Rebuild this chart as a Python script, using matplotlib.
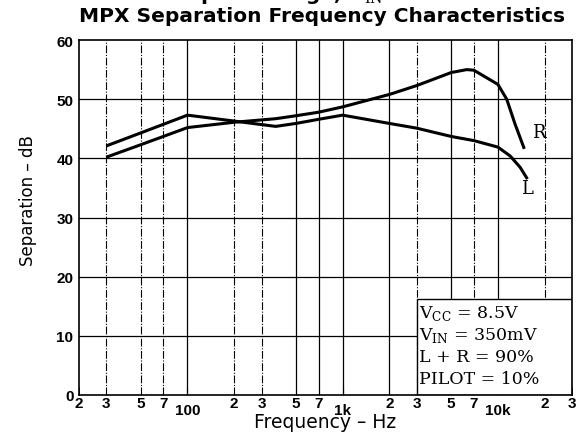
import matplotlib.pyplot as plt
from matplotlib.patches import Rectangle

# separation curves, Hz / dB
freq_r = [30, 50, 100, 200, 370, 500, 700, 1000, 2000, 3000, 5000, 6300, 7000, 10000, 11400, 12900, 14800]
sep_r = [40.2, 42.3, 45.2, 46.1, 46.7, 47.2, 47.8, 48.7, 50.8, 52.3, 54.5, 55.0, 54.9, 52.5, 50.0, 45.8, 41.6]

freq_l = [30, 50, 100, 200, 370, 500, 700, 1000, 2000, 3000, 5000, 7000, 10000, 12000, 13900, 15500]
sep_l = [42.1, 44.3, 47.3, 46.3, 45.4, 45.9, 46.6, 47.3, 45.9, 45.1, 43.7, 43.0, 41.9, 40.4, 38.5, 36.5]

grid_freqs = [30, 50, 70, 100, 200, 300, 500, 700, 1000, 2000, 3000, 5000, 7000, 10000, 20000]
solid_freqs = [100, 500, 700, 1000, 2000, 5000, 10000]
db_ticks = [0, 10, 20, 30, 40, 50, 60]
major_ticks = [100, 1000, 10000]
major_labels = ["100", "1k", "10k"]
minor_ticks = [20, 30, 50, 70, 200, 300, 500, 700, 2000, 3000, 5000, 7000, 20000, 30000]
minor_labels = ["2", "3", "5", "7", "2", "3", "5", "7", "2", "3", "5", "7", "2", "3"]
conditions = ["V$_{\\rm CC}$ = 8.5V", "V$_{\\rm IN}$ = 350mV", "L + R = 90%", "PILOT = 10%"]

plt.rcParams['font.family'] = ['Liberation Sans', 'DejaVu Sans']
plt.rcParams['mathtext.fontset'] = 'custom'
plt.rcParams['mathtext.rm'] = 'DejaVu Serif'

fig = plt.figure(figsize=(5.83, 4.35), dpi=100)
ax = fig.add_axes([0.1355, 0.0897, 0.8455, 0.816])
ax.set_xscale('log')
ax.set_xlim(20, 30000)
ax.set_ylim(0, 60)

# grid
for f in grid_freqs:
    if f in solid_freqs:
        ax.axvline(f, color='black', lw=0.9, zorder=1)
    else:
        ax.axvline(f, color='black', lw=0.8, ls=(0, (7, 1.5, 1, 1.5)), zorder=1)
for d in db_ticks[1:-1]:
    ax.axhline(d, color='black', lw=0.9, zorder=1)

ax.plot(freq_r, sep_r, color='black', lw=2.2, zorder=3, solid_capstyle='butt')
ax.plot(freq_l, sep_l, color='black', lw=2.2, zorder=3, solid_capstyle='butt')

ax.text(16500, 44.5, "R", family='DejaVu Serif', fontsize=13, ha='left', va='center', zorder=4)
ax.text(14000, 35.0, "L", family='DejaVu Serif', fontsize=13, ha='left', va='center', zorder=4)

# conditions box
ax.add_patch(Rectangle((3000, 0), 30000 - 3000, 16.2, facecolor='white',
                       edgecolor='black', lw=1.0, zorder=2))
for i, s in enumerate(conditions):
    ax.text(3120, 14.0 - i * 3.75, s, family='DejaVu Serif', fontsize=12.5,
            ha='left', va='center', zorder=4)

ax.set_xticks(major_ticks)
ax.set_xticklabels(major_labels)
ax.set_xticks(minor_ticks, minor=True)
ax.set_xticklabels(minor_labels, minor=True)
ax.tick_params(axis='x', which='major', direction='in', length=6, pad=6, labelsize=11)
ax.tick_params(axis='x', which='minor', direction='in', length=6, pad=1, labelsize=11)
ax.set_yticks(db_ticks)
ax.tick_params(axis='y', direction='in', length=0, pad=4, labelsize=11)
for t in ax.get_xticklabels(which='both') + ax.get_yticklabels():
    t.set_fontweight('bold')

for sp in ax.spines.values():
    sp.set_linewidth(1.2)
    sp.set_zorder(5)

ax.set_ylabel("Separation \u2013 dB", family='DejaVu Sans', fontsize=12, labelpad=14, y=0.55)
ax.set_xlabel("Frequency \u2013 Hz", family='DejaVu Sans', fontsize=13.5, labelpad=-3.5)

fig.text(0.552, 0.963, "MPX Separation Frequency Characteristics", family='DejaVu Sans',
         fontsize=14.5, fontweight='bold', ha='center', va='center')
fig.text(0.535, 1.013, "Input Voltage, V$_{\\rm IN}$ \u2013 mV", family='DejaVu Sans',
         fontsize=14.5, fontweight='bold', ha='center', va='center')

fig.savefig("out.png", dpi=100)
